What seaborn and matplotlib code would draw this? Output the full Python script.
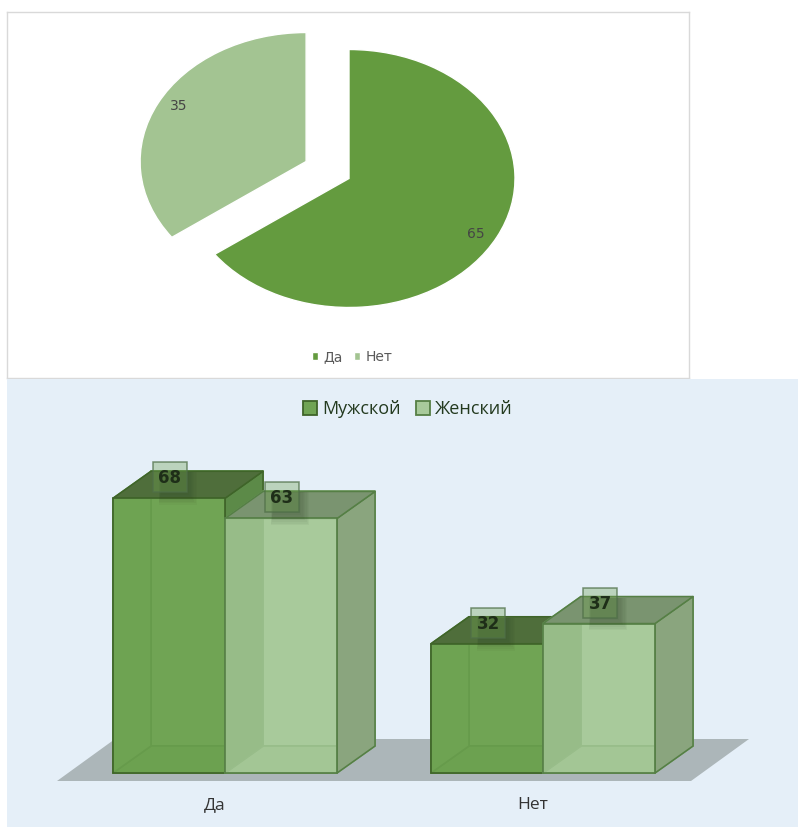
import numpy as np
import pandas as pd
import matplotlib
matplotlib.use("Agg")
import matplotlib.pyplot as plt
from matplotlib.patches import Polygon, Rectangle
import seaborn as sns

# data
pie_labels = ["Да", "Нет"]
pie_values = [65, 35]
categories = ["Да", "Нет"]
series_names = ["Мужской", "Женский"]
male_values = [68, 32]
female_values = [63, 37]

W, H = 798, 827
sns.set_theme(style="white")
plt.rcParams["font.family"] = ["Open Sans", "DejaVu Sans"]
fig = plt.figure(figsize=(W / 100, H / 100), dpi=100, facecolor="white")


def axes_px(x0, y0, x1, y1):
    return fig.add_axes([x0 / W, 1 - y1 / H, (x1 - x0) / W, (y1 - y0) / H])


# ---------- top pie ----------
ax1 = axes_px(7, 12, 689, 378)
pie_cols = ["#649B3F", "#A3C492"]
wedges, _, autotexts = ax1.pie(
    pie_values, explode=[0, 0.29], colors=pie_cols, startangle=90, counterclock=False,
    autopct=lambda p: f"{p:.0f}", pctdistance=0.86,
    textprops=dict(color="#454545", fontsize=10, family="DejaVu Sans"),
)
ax1.set_aspect("auto")
rx, ry = 166, 129
cy = 178.5
ax1.set_xlim((7 - 349) / rx, (689 - 349) / rx)
ax1.set_ylim((cy - 378) / ry, (cy - 12) / ry)
ax1.set_frame_on(True)
for s in ax1.spines.values():
    s.set_color("#D9D9D9")
    s.set_linewidth(1)
for t, nudge in zip(autotexts, [-5.5 / ry, 5 / ry]):
    px, py = t.get_position()
    t.set_position((px, py + nudge))
leg1 = ax1.legend(
    wedges, pie_labels, loc="center", bbox_to_anchor=(0.506, 0.0575), ncol=2, frameon=False,
    prop=dict(family="DejaVu Sans", size=10), labelcolor="#595959",
    handlelength=0.45, handleheight=0.5, columnspacing=0.85, handletextpad=0.35,
)

# ---------- bottom 3D bars ----------
ax2 = axes_px(7, 379, 798, 827)
ax2.set_facecolor("#E5EFF8")
px_x, px_y = 318.0, 4.04            # pixels per category, pixels per value
x_at = lambda px: (px - 225) / px_x
y_at = lambda py: (773 - py) / px_y

df = pd.DataFrame({
    "cat": categories * 2,
    "sex": [series_names[0]] * 2 + [series_names[1]] * 2,
    "value": male_values + female_values,
})
front_cols = ["#70A454", "#A8CA9B"]
sns.barplot(data=df, x="cat", y="value", hue="sex", palette=front_cols, hue_order=series_names,
            width=224 / 318, saturation=1, ax=ax2)
ax2.set_xlim(x_at(7), x_at(798))
ax2.set_ylim(y_at(827), y_at(379))
ax2.set_xlabel("")
ax2.set_ylabel("")
ax2.set_yticks([])
ax2.set_xticks(np.arange(len(categories)) - 10 / px_x, categories)
ax2.tick_params(axis="x", length=0, pad=-21.5, labelsize=12.5, labelcolor="#333333")
sns.despine(ax=ax2, left=True, bottom=True)

# floor
ax2.add_patch(Polygon([(x_at(57), y_at(781)), (x_at(691), y_at(781)),
                       (x_at(749), y_at(739)), (x_at(115), y_at(739))],
                      closed=True, fc="#ACB6B9", ec="none", zorder=0.5))

dx, dy = 38 / px_x, 27 / px_y
styles = [
    dict(edge="#3F6429", inner="#4F8436", back="#72A656", bottom="#649C46", left="#6CA150",
         right="#5C8A48", top="#4F6E3B", alpha=0.72),
    dict(edge="#557F45", inner="#6F9C5E", back="#A8CA9B", bottom="#98BC86", left="#6E9A58",
         right="#8AA57E", top="#7A9470", alpha=0.72),
]
labels = []
for j, (cont, st) in enumerate(zip(ax2.containers, styles)):
    base = 1 + j * 3
    ek = dict(ec=st["edge"], lw=1.1, closed=True, joinstyle="round")
    ik = dict(ec=st["inner"], lw=1.2, closed=True, joinstyle="round")
    for bar in cont:
        x0, x1, h = bar.get_x(), bar.get_x() + bar.get_width(), bar.get_height()
        ax2.add_patch(Polygon([(x0 + dx, dy), (x1 + dx, dy), (x1 + dx, h + dy), (x0 + dx, h + dy)],
                              fc=st["back"], zorder=base, **ik))
        ax2.add_patch(Polygon([(x0, 0), (x1, 0), (x1 + dx, dy), (x0 + dx, dy)],
                              fc=st["bottom"], zorder=base + 0.1, **ik))
        ax2.add_patch(Polygon([(x0, 0), (x0 + dx, dy), (x0 + dx, h + dy), (x0, h)],
                              fc=st["left"], zorder=base + 0.2, **ik))
        ax2.add_patch(Polygon([(x1, 0), (x1 + dx, dy), (x1 + dx, h + dy), (x1, h)],
                              fc=st["right"], zorder=base + 1, **ek))
        ax2.add_patch(Polygon([(x0, h), (x1, h), (x1 + dx, h + dy), (x0 + dx, h + dy)],
                              fc=st["top"], zorder=base + 1.1, **ek))
        bar.set_zorder(base + 2)
        bar.set_alpha(st["alpha"])
        bar.set_linewidth(0)
        # crisp front outline on top of the translucent face
        ax2.add_patch(Rectangle((x0, 0), x1 - x0, h, fc="none", ec=st["edge"], lw=1.2, zorder=base + 2.1))
        labels.append(((x0 + x1) / 2, h, base))

# value labels
bw, bh = 34 / px_x, 30 / px_y
for cx, h, base in labels:
    lft = cx + 1 / px_x - bw / 2
    bot = h + 6 / px_y
    top_face = h + dy - 1 / px_y      # the soft shadow only falls on the bar's top and front
    for k in range(8):
        y0 = bot - (1 + 1.7 * k) / px_y
        ax2.add_patch(Rectangle(
            (lft + (8 - k * 0.3) / px_x, y0),
            bw + (-7 + 1.6 * k) / px_x, top_face - y0,
            fc="#2C3D22", ec="none", alpha=0.045, zorder=base + 2.2))
    ax2.add_patch(Rectangle((lft, bot), bw, bh, fc="#6FA050", alpha=0.35, ec="none", zorder=10))
    ax2.add_patch(Rectangle((lft, bot), bw, bh, fc="none", ec="#4F6F48", lw=1.1, alpha=0.75, zorder=10.1))
    ax2.text(cx + 1 / px_x, bot + bh / 2 - 1 / px_y, f"{h:.0f}", ha="center", va="center", fontsize=12,
             fontweight="bold", family="DejaVu Sans", color="#1E2E18", zorder=11)

# legend
sns.move_legend(ax2, loc="center", bbox_to_anchor=((408 - 7) / 791, 1 - (409 - 379) / 448),
                ncol=2, title=None, frameon=False, prop=dict(size=13), labelcolor="#233A1F",
                handlelength=0.75, handleheight=0.85, columnspacing=0.85, handletextpad=0.3)
for hd, st in zip(ax2.get_legend().get_patches(), styles):
    hd.set_edgecolor(st["edge"])
    hd.set_linewidth(1.3)
    hd.set_alpha(1)

fig.savefig("out.png", dpi=100, facecolor="white")
